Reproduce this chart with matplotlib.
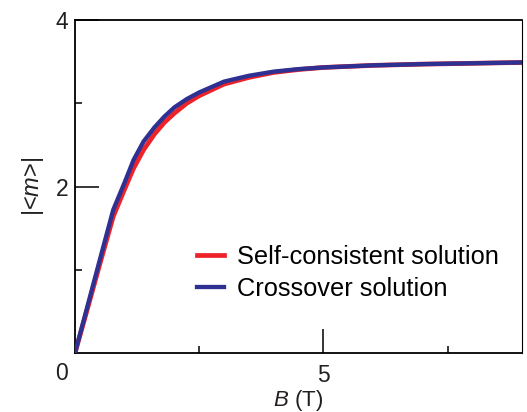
import numpy as np
import matplotlib
matplotlib.use('Agg')
from matplotlib import pyplot as plt
from matplotlib.ticker import FixedLocator

plt.rcParams['font.family'] = ['Liberation Sans', 'DejaVu Sans']
plt.rcParams['mathtext.fontset'] = 'custom'
plt.rcParams['mathtext.rm'] = 'Liberation Sans'
plt.rcParams['mathtext.it'] = 'Liberation Sans:italic'

# field B (T) and magnetisation |<m>|
b_field = [0, 0.25, 0.5, 0.77, 1.0, 1.18, 1.38, 1.6, 1.8, 2.0, 2.25, 2.5, 3.0, 3.5, 4.0,
           4.5, 5.0, 6.0, 7.0, 8.0, 9.0]
m_self = [0, 0.53, 1.07, 1.64, 1.97, 2.22, 2.44, 2.63, 2.77, 2.88, 3.00, 3.09, 3.23, 3.31,
          3.37, 3.405, 3.43, 3.455, 3.47, 3.48, 3.49]
m_cross = [0, 0.56, 1.12, 1.72, 2.05, 2.32, 2.54, 2.71, 2.84, 2.95, 3.05, 3.13, 3.26, 3.33,
           3.38, 3.41, 3.43, 3.455, 3.47, 3.48, 3.49]

red = '#ee2229'
blue = '#2e3192'
txt = '#231f20'

fig = plt.figure(figsize=(5.27, 4.12), dpi=100)
ax = fig.add_axes([75 / 527, 59 / 412, 447 / 527, 333 / 412])

ax.plot(b_field, m_self, color=red, lw=3.4, label='Self-consistent solution', zorder=2,
        solid_joinstyle='round')
ax.plot(b_field, m_cross, color=blue, lw=3.1, label='Crossover solution', zorder=3,
        solid_joinstyle='round')

ax.set_xlim(0, 9)
ax.set_ylim(0, 4)

ax.xaxis.set_major_locator(FixedLocator([5]))
ax.xaxis.set_minor_locator(FixedLocator([2.5, 7.5]))
ax.yaxis.set_major_locator(FixedLocator([2, 4]))
ax.yaxis.set_minor_locator(FixedLocator([1, 3]))
ax.tick_params(which='major', direction='in', length=17, width=1.1, labelsize=16.5,
               color='black', labelcolor=txt)
ax.tick_params(axis='y', which='major', pad=5)
ax.tick_params(axis='x', which='major', pad=8)
ax.tick_params(which='minor', direction='in', length=5, width=1.1)
for side in ['left', 'bottom', 'top']:
    ax.spines[side].set_linewidth(1.3)
ax.spines['right'].set_linewidth(0.8)

ax.text(-7 / 447, -21 / 333, '0', transform=ax.transAxes, ha='right', va='center',
        fontsize=16.5, color=txt)

ax.set_xlabel(r'$B$ (T)', fontsize=16, color=txt)
ax.xaxis.set_label_coords(0.5, -53 / 333)
ax.xaxis.label.set_va('baseline')
ax.set_ylabel(r'|<$m$>|', fontsize=17, color=txt, labelpad=7)

ax.legend(loc='upper left', bbox_to_anchor=(0.273, 0.324), frameon=False, fontsize=18.3,
          handlelength=1.06, handletextpad=0.51, labelspacing=0.32, borderaxespad=0,
          borderpad=0)

fig.savefig('out.png', dpi=100)
